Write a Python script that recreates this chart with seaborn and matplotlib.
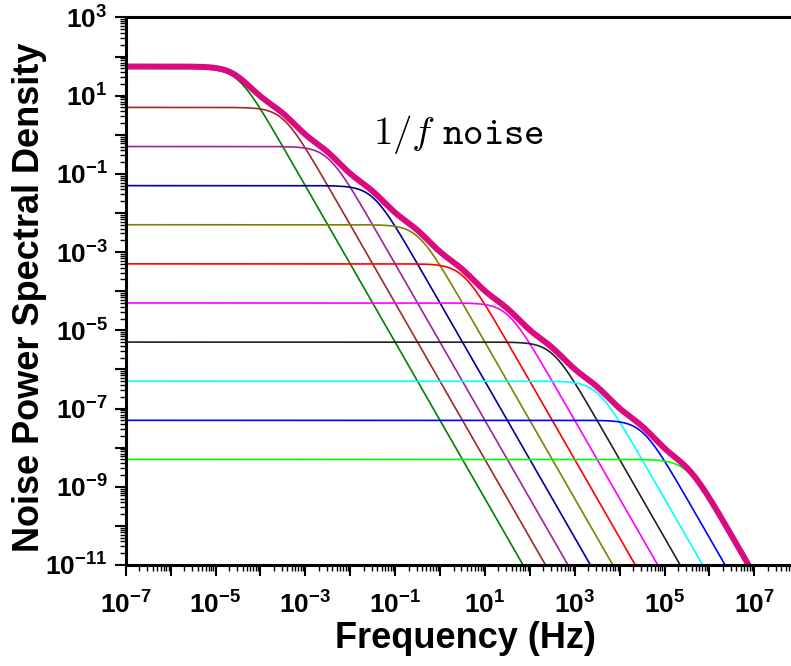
import numpy as np
import pandas as pd
import matplotlib
matplotlib.use("Agg")
import matplotlib.pyplot as plt
import matplotlib.ticker as mticker
import seaborn as sns

# Lorentzian components: low-frequency plateau level and corner frequency (Hz)
plateau_levels = [50, 5, 0.5, 0.05, 5e-3, 5e-4, 5e-5, 5e-6, 5e-7, 5e-8, 5e-9]
corner_freqs = [10 ** (-4.5 + k) for k in range(11)]
component_colors = ["#008000", "#A02828", "#A020A0", "#00009A", "#808000",
                    "#FF0000", "#FF00FF", "#222222", "#00FFFF", "#0000FF",
                    "#00FF00"]
sum_color = "#DA0A80"

freq = np.logspace(-7, 8, 1500)

rows = []
total = np.zeros_like(freq)
for k, (a, fc) in enumerate(zip(plateau_levels, corner_freqs)):
    s = a / (1.0 + (freq / fc) ** 2)
    total += s
    rows.append(pd.DataFrame({"f": freq, "S": s, "comp": f"c{k}"}))
df = pd.concat(rows, ignore_index=True)
df_sum = pd.DataFrame({"f": freq, "S": total})

sns.set_theme(style="white")
plt.rcParams["font.family"] = ["Liberation Sans", "DejaVu Sans"]
plt.rcParams["mathtext.fontset"] = "custom"
plt.rcParams["mathtext.rm"] = "Liberation Sans:bold"
plt.rcParams["mathtext.bf"] = "Liberation Sans:bold"
plt.rcParams["mathtext.default"] = "bf"
plt.rcParams["text.color"] = "black"
plt.rcParams["axes.labelcolor"] = "black"
plt.rcParams["xtick.color"] = "black"
plt.rcParams["ytick.color"] = "black"

fig = plt.figure(figsize=(7.91, 6.66), dpi=100)
ax_left = 125.7 / 791
ax_bottom = 101 / 666
ax_height = (565 - 17.4) / 666
ax_width = (15 * 44.9) / 791
ax = fig.add_axes([ax_left, ax_bottom, ax_width, ax_height])
ax_w_px = 15 * 44.9
ax_h_px = 565 - 17.4

sns.lineplot(data=df, x="f", y="S", hue="comp",
             palette=component_colors, linewidth=1.2, legend=False,
             ax=ax, estimator=None, sort=False)
sns.lineplot(data=df_sum, x="f", y="S", color=sum_color, linewidth=4.3,
             ax=ax, estimator=None, sort=False)

ax.set_xscale("log")
ax.set_yscale("log")
ax.set_xlim(1e-7, 1e8)
ax.set_ylim(1e-11, 1e3)

ax.xaxis.set_major_locator(mticker.LogLocator(base=10, numticks=30))
ax.yaxis.set_major_locator(mticker.LogLocator(base=10, numticks=30))
ax.xaxis.set_minor_locator(mticker.LogLocator(base=10, subs=np.arange(2, 10), numticks=30))
ax.yaxis.set_minor_locator(mticker.LogLocator(base=10, subs=np.arange(2, 10), numticks=30))

def odd_fmt(v, pos):
    e = int(round(np.log10(v)))
    if e % 2 == 0:
        return ""
    return r"$\mathbf{10^{%d}}$" % e

ax.xaxis.set_major_formatter(mticker.FuncFormatter(odd_fmt))
ax.yaxis.set_major_formatter(mticker.FuncFormatter(odd_fmt))
ax.xaxis.set_minor_formatter(mticker.NullFormatter())
ax.yaxis.set_minor_formatter(mticker.NullFormatter())

ax.tick_params(axis="both", which="major", direction="out", length=8,
               width=1.5, labelsize=19, color="black", labelcolor="black",
               bottom=True, left=True, top=False, right=False)
ax.tick_params(axis="x", which="major", pad=11)
ax.tick_params(axis="y", which="major", pad=5)
ax.tick_params(axis="both", which="minor", direction="out", length=4,
               width=1.0, color="black",
               bottom=True, left=True, top=False, right=False)

for side in ["left", "bottom", "top", "right"]:
    ax.spines[side].set_visible(True)
    ax.spines[side].set_color("black")
    ax.spines[side].set_linewidth(2.2)

ax.set_xlabel("Frequency (Hz)", fontsize=26, fontweight="bold", color="black")
ax.set_ylabel("Noise Power Spectral Density", fontsize=26, fontweight="bold",
              color="black")
ax.xaxis.set_label_coords((465 - 125.7) / ax_w_px, -(621 - 565) / ax_h_px)
ax.yaxis.set_label_coords(-(125.7 - 47) / ax_w_px, (565 - 297) / ax_h_px)

ax.text(10 ** (-7 + (373 - 125.7) / 44.9), 10 ** (3 - (135 - 17.4) / 39.2),
        r"$\mathrm{1/}\mathit{f}\ \mathtt{noise}$", fontsize=28,
        math_fontfamily="cm", ha="left", va="center", color="black")

fig.savefig("out.png", dpi=100)
